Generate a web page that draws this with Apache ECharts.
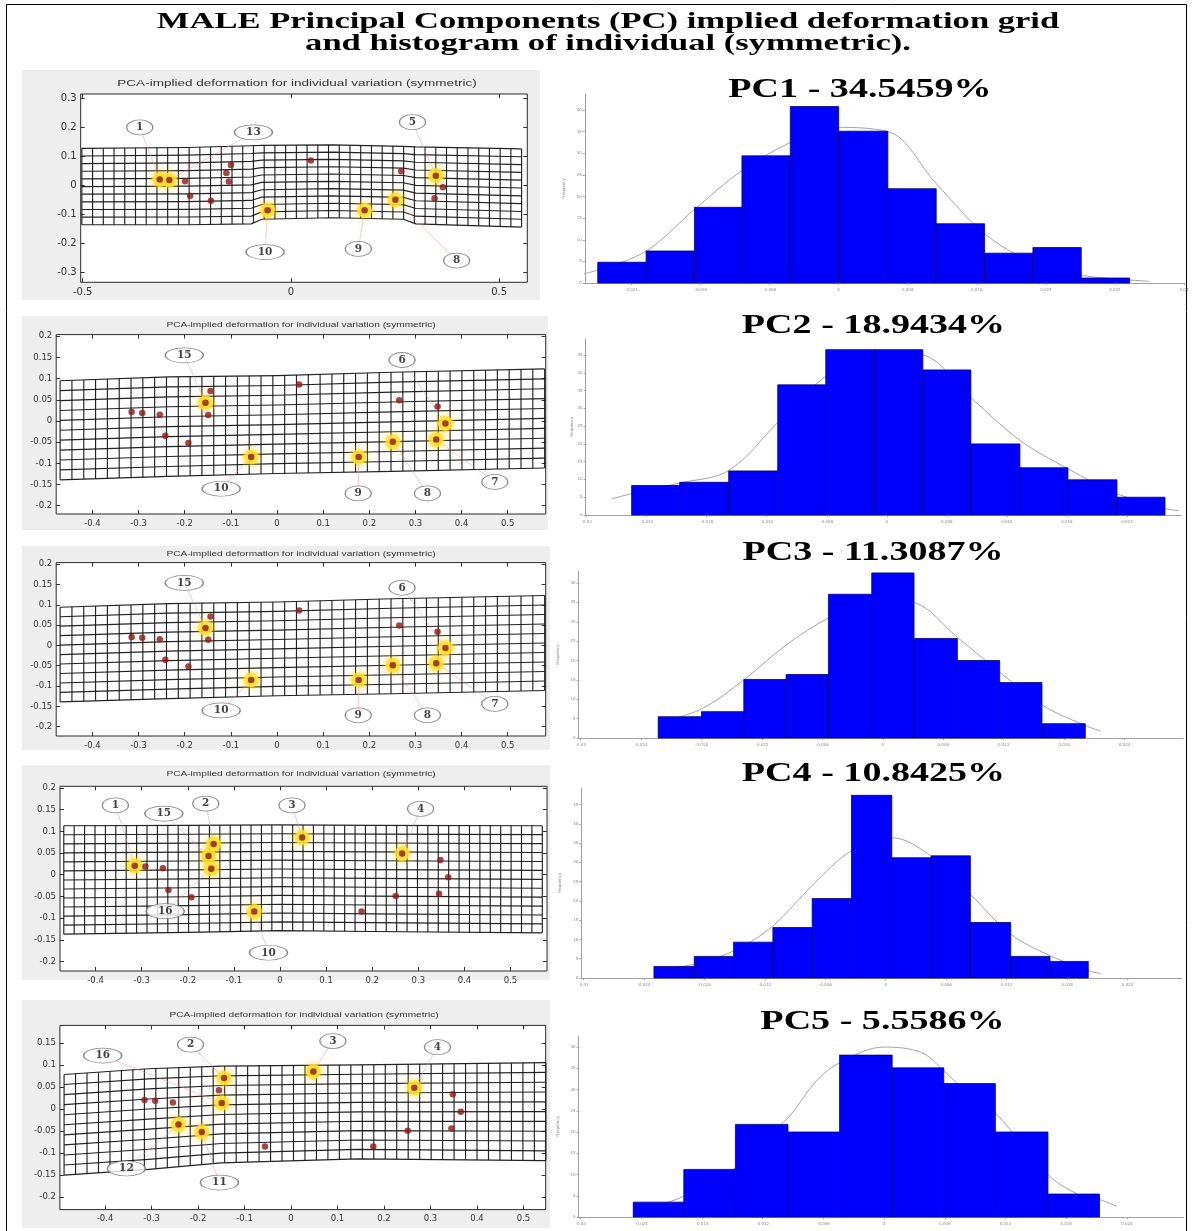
<!DOCTYPE html>
<html><head><meta charset="utf-8">
<script src="https://cdn.jsdelivr.net/npm/echarts@6/dist/echarts.min.js"></script>
<style>html,body{margin:0;padding:0;background:#fff}#c{width:1192px;height:1231px}</style>
</head><body><div id="c"></div>
<script>
// ================= DATA =================
const figureTitleLines = ['MALE Principal Components (PC) implied deformation grid', 'and histogram of individual (symmetric).'];
const panelTitle = 'PCA-implied deformation for individual variation (symmetric)';
const pcTitles = ['PC1 - 34.5459%', 'PC2 - 18.9434%', 'PC3 - 11.3087%', 'PC4 - 10.8425%', 'PC5 - 5.5586%'];

// landmarks 1..16 (mean shape)
const landmarkX = [-0.315, -0.144, 0.048, 0.265, 0.348, 0.365, 0.345, 0.251, 0.177, -0.056, -0.192, -0.242, -0.292, -0.254, -0.155, -0.149];
const landmarkY = [0.021, 0.071, 0.086, 0.049, 0.034, -0.006, -0.044, -0.049, -0.085, -0.085, -0.052, -0.035, 0.019, 0.015, 0.043, 0.014];

// panel 1 (PC1)
const p1Highlighted = [1, 13, 10, 9, 8, 5];
const p1LabelIds = [1, 13, 5, 10, 9, 8];
const p1LabelX = [-0.363, -0.09, 0.292, -0.062, 0.162, 0.398];
const p1LabelY = [0.2, 0.183, 0.218, -0.229, -0.218, -0.258];
const p1XTicks = [-0.5, 0, 0.5];
const p1YTicks = [-0.3, -0.2, -0.1, 0, 0.1, 0.2, 0.3];
const p1MeshKnots = [-0.502, -0.25, -0.095, -0.07, 0.1, 0.27, 0.3, 0.554];
const p1MeshTop = [0.128, 0.131, 0.137, 0.138, 0.14, 0.135, 0.133, 0.126];
const p1MeshBottom = [-0.135, -0.135, -0.132, -0.116, -0.111, -0.116, -0.132, -0.143];
const p1MeshCols = 41, p1MeshRows = 10;

// panel 2 (PC2)
const p2Highlighted = [15, 10, 9, 8, 6, 7];
const p2LabelIds = [15, 6, 7, 10, 9, 8];
const p2LabelX = [-0.201, 0.271, 0.472, -0.121, 0.176, 0.326];
const p2LabelY = [0.155, 0.144, -0.144, -0.16, -0.171, -0.171];
const p2XTicks = [-0.4, -0.3, -0.2, -0.1, 0, 0.1, 0.2, 0.3, 0.4, 0.5];
const p2YTicks = [-0.2, -0.15, -0.1, -0.05, 0, 0.05, 0.1, 0.15, 0.2];
const p2MeshKnots = [-0.47, -0.235, 0, 0.25, 0.58];
const p2MeshTop = [0.095, 0.104, 0.107, 0.115, 0.123];
const p2MeshBottom = [-0.139, -0.131, -0.124, -0.119, -0.111];
const p2MeshCols = 41, p2MeshRows = 10;

// panel 3 (PC3)
const p3Highlighted = [15, 10, 9, 8, 6, 7];
const p3LabelIds = [15, 6, 7, 10, 9, 8];
const p3LabelX = [-0.201, 0.271, 0.472, -0.121, 0.176, 0.326];
const p3LabelY = [0.154, 0.142, -0.144, -0.16, -0.172, -0.172];
const p3XTicks = [-0.4, -0.3, -0.2, -0.1, 0, 0.1, 0.2, 0.3, 0.4, 0.5];
const p3YTicks = [-0.2, -0.15, -0.1, -0.05, 0, 0.05, 0.1, 0.15, 0.2];
const p3MeshKnots = [-0.47, -0.235, 0, 0.25, 0.58];
const p3MeshTop = [0.094, 0.103, 0.107, 0.115, 0.123];
const p3MeshBottom = [-0.139, -0.131, -0.124, -0.119, -0.111];
const p3MeshCols = 41, p3MeshRows = 10;

// panel 4 (PC4)
const p4Highlighted = [1, 2, 15, 16, 3, 4, 10];
const p4LabelIds = [1, 15, 2, 3, 4, 16, 10];
const p4LabelX = [-0.357, -0.252, -0.161, 0.026, 0.305, -0.249, -0.025];
const p4LabelY = [0.16, 0.141, 0.164, 0.16, 0.152, -0.084, -0.18];
const p4XTicks = [-0.4, -0.3, -0.2, -0.1, 0, 0.1, 0.2, 0.3, 0.4, 0.5];
const p4YTicks = [-0.2, -0.15, -0.1, -0.05, 0, 0.05, 0.1, 0.15, 0.2];
const p4MeshKnots = [-0.469, -0.2, 0, 0.2, 0.569];
const p4MeshTop = [0.113, 0.114, 0.115, 0.114, 0.113];
const p4MeshBottom = [-0.137, -0.133, -0.129, -0.131, -0.134];
const p4MeshCols = 46, p4MeshRows = 12;

// panel 5 (PC5)
const p5Highlighted = [2, 16, 3, 4, 12, 11];
const p5LabelIds = [16, 2, 3, 4, 12, 11];
const p5LabelX = [-0.405, -0.216, 0.09, 0.315, -0.354, -0.154];
const p5LabelY = [0.122, 0.147, 0.155, 0.141, -0.135, -0.167];
const p5XTicks = [-0.5, -0.4, -0.3, -0.2, -0.1, 0, 0.1, 0.2, 0.3, 0.4, 0.5];
const p5YTicks = [-0.2, -0.15, -0.1, -0.05, 0, 0.05, 0.1, 0.15];
const p5MeshKnots = [-0.488, -0.306, -0.15, 0.144, 0.548];
const p5MeshTop = [0.079, 0.092, 0.098, 0.101, 0.106];
const p5MeshBottom = [-0.15, -0.137, -0.122, -0.113, -0.117];
const p5MeshCols = 42, p5MeshRows = 10;

// histograms: bin edges, counts, fitted curve
const h1Edges = [-0.0279, -0.0223, -0.0167, -0.0112, -0.0056, 0, 0.0057, 0.0113, 0.0169, 0.0225, 0.0281, 0.0337];
const h1Counts = [4.8, 7.4, 17.5, 29.4, 40.8, 35.1, 21.8, 13.7, 6.9, 8.2, 1.15];
const h1CurveX = [-0.031, -0.0279, -0.0223, -0.0167, -0.0112, -0.0056, -0.001, 0.0057, 0.0113, 0.0169, 0.0225, 0.0281, 0.0337, 0.036];
const h1CurveY = [1.5, 3, 7.4, 17, 26, 32.5, 36, 35, 23, 11.4, 4.8, 1.8, 0.7, 0.4];
const h1XTicks = [-0.024, -0.016, -0.008, 0, 0.008, 0.016, 0.024, 0.032, 0.04];
const h1YTicks = [0, 5, 10, 15, 20, 25, 30, 35, 40];

const h2Edges = [-0.0255, -0.0207, -0.0158, -0.0109, -0.0061, -0.0012, 0.0036, 0.0084, 0.0133, 0.0181, 0.023, 0.0278];
const h2Counts = [8.3, 9.2, 12.4, 36.6, 46.5, 46.5, 40.8, 20, 13.3, 9.9, 5];
const h2CurveX = [-0.0275, -0.0255, -0.0207, -0.0158, -0.0109, -0.0061, -0.0012, 0.0036, 0.0084, 0.0133, 0.0181, 0.023, 0.0278, 0.0292];
const h2CurveY = [4.5, 6, 9, 12.5, 26, 39, 46, 45, 33, 21, 13, 6, 1.8, 1.2];
const h2XTicks = [-0.03, -0.024, -0.018, -0.012, -0.006, 0, 0.006, 0.012, 0.018, 0.024];
const h2YTicks = [0, 5, 10, 15, 20, 25, 30, 35, 40, 45];

const h3Edges = [-0.0223, -0.018, -0.0138, -0.0096, -0.0054, -0.0011, 0.0031, 0.0074, 0.0116, 0.0158, 0.0201];
const h3Counts = [5.5, 6.8, 15.1, 16.4, 37.1, 42.6, 25.7, 20, 14.3, 3.7];
const h3CurveX = [-0.0223, -0.018, -0.0138, -0.0096, -0.0054, -0.0011, 0.0031, 0.0074, 0.0116, 0.0158, 0.0201, 0.0216];
const h3CurveY = [4, 7.5, 15, 24, 31, 36, 35, 26, 17, 8.5, 3.2, 1.8];
const h3XTicks = [-0.03, -0.024, -0.018, -0.012, -0.006, 0, 0.006, 0.012, 0.018, 0.024];
const h3YTicks = [0, 5, 10, 15, 20, 25, 30, 35, 40];

const h4Edges = [-0.023, -0.019, -0.0151, -0.0112, -0.0073, -0.0034, 0.0006, 0.0045, 0.0084, 0.0124, 0.0163, 0.0201];
const h4Counts = [3, 5.6, 9.3, 13.1, 20.6, 47.4, 31.2, 31.7, 14.4, 5.6, 4.3];
const h4CurveX = [-0.023, -0.019, -0.0151, -0.0112, -0.0073, -0.0034, 0.0006, 0.0045, 0.0084, 0.0124, 0.0163, 0.0201, 0.0213];
const h4CurveY = [2, 3.6, 7, 13.5, 24, 33, 36.4, 31.6, 21.7, 11.4, 5.8, 1.9, 1.2];
const h4XTicks = [-0.03, -0.024, -0.018, -0.012, -0.006, 0, 0.006, 0.012, 0.018, 0.024];
const h4YTicks = [0, 5, 10, 15, 20, 25, 30, 35, 40, 45];

const h5Edges = [-0.0248, -0.0198, -0.0147, -0.0095, -0.0044, 0.0008, 0.0059, 0.011, 0.0162, 0.0213];
const h5Counts = [3.5, 11.2, 21.8, 20, 38.1, 35.1, 31.4, 20, 5.4];
const h5CurveX = [-0.0248, -0.0222, -0.0198, -0.0147, -0.0115, -0.0095, -0.0067, -0.0044, 0, 0.0037, 0.0059, 0.0088, 0.011, 0.0162, 0.0192, 0.0213, 0.023];
const h5CurveY = [1.5, 2.9, 4.9, 11.6, 19.4, 23.3, 32, 36.3, 40, 38.7, 34.4, 28, 24.5, 10, 5.3, 4.1, 2.5];
const h5XTicks = [-0.03, -0.024, -0.018, -0.012, -0.006, 0, 0.006, 0.012, 0.018, 0.024];
const h5YTicks = [0, 5, 10, 15, 20, 25, 30, 35, 40];

// ================= LAYOUT (pixels) =================
const leftLayout = [
  {l: 80.7, t: 94, r: 527.3, b: 282.3, xMin: -0.5048, xMax: 0.5677, yMin: -0.333, yMax: 0.315, fs: 10, bg: [22, 70, 518, 230], title: [297, 83, 9.6]},
  {l: 56.2, t: 334.6, r: 545.7, b: 514, xMin: -0.4785, xMax: 0.5823, yMin: -0.2197, yMax: 0.204, fs: 8.5, bg: [22, 316, 526, 214], title: [301, 325, 7.2]},
  {l: 56.2, t: 562.6, r: 545.7, b: 736, xMin: -0.4785, xMax: 0.5823, yMin: -0.223, yMax: 0.204, fs: 8.5, bg: [22, 546, 528, 204], title: [301, 554, 7.2]},
  {l: 60, t: 786.3, r: 547, b: 971, xMin: -0.4772, xMax: 0.5792, yMin: -0.222, yMax: 0.204, fs: 8.5, bg: [22, 765, 528, 215], title: [301, 774, 7.2]},
  {l: 59.9, t: 1025.4, r: 545.7, b: 1209.6, xMin: -0.497, xMax: 0.5477, yMin: -0.2285, yMax: 0.1907, fs: 8.5, bg: [22, 1000, 528, 228], title: [304, 1015, 7.2]}
];
const histLayout = [
  {l: 584.8, t: 94, r: 1184, b: 283, xMin: -0.0294, xMax: 0.04, yMax: 43.7, title: [860, 90]},
  {l: 585.6, t: 339, r: 1181, b: 515, xMin: -0.0301, xMax: 0.0294, yMax: 49.5, title: [873.5, 326]},
  {l: 578.6, t: 571.4, r: 1183, b: 738, xMin: -0.0302, xMax: 0.0298, yMax: 43, title: [873, 553]},
  {l: 581.4, t: 788, r: 1182, b: 978, xMin: -0.0302, xMax: 0.0294, yMax: 49.3, title: [873.5, 774]},
  {l: 578.6, t: 1036, r: 1183.5, b: 1217, xMin: -0.0302, xMax: 0.0296, yMax: 42.6, title: [882.5, 1022]}
];

// ================= BUILD =================
const panels = [
  {hl: p1Highlighted, ids: p1LabelIds, lx: p1LabelX, ly: p1LabelY, xt: p1XTicks, yt: p1YTicks, mk: p1MeshKnots, mt: p1MeshTop, mb: p1MeshBottom, cols: p1MeshCols, rows: p1MeshRows},
  {hl: p2Highlighted, ids: p2LabelIds, lx: p2LabelX, ly: p2LabelY, xt: p2XTicks, yt: p2YTicks, mk: p2MeshKnots, mt: p2MeshTop, mb: p2MeshBottom, cols: p2MeshCols, rows: p2MeshRows},
  {hl: p3Highlighted, ids: p3LabelIds, lx: p3LabelX, ly: p3LabelY, xt: p3XTicks, yt: p3YTicks, mk: p3MeshKnots, mt: p3MeshTop, mb: p3MeshBottom, cols: p3MeshCols, rows: p3MeshRows},
  {hl: p4Highlighted, ids: p4LabelIds, lx: p4LabelX, ly: p4LabelY, xt: p4XTicks, yt: p4YTicks, mk: p4MeshKnots, mt: p4MeshTop, mb: p4MeshBottom, cols: p4MeshCols, rows: p4MeshRows},
  {hl: p5Highlighted, ids: p5LabelIds, lx: p5LabelX, ly: p5LabelY, xt: p5XTicks, yt: p5YTicks, mk: p5MeshKnots, mt: p5MeshTop, mb: p5MeshBottom, cols: p5MeshCols, rows: p5MeshRows}
];
const hists = [
  {e: h1Edges, c: h1Counts, cx: h1CurveX, cy: h1CurveY, xt: h1XTicks, yt: h1YTicks},
  {e: h2Edges, c: h2Counts, cx: h2CurveX, cy: h2CurveY, xt: h2XTicks, yt: h2YTicks},
  {e: h3Edges, c: h3Counts, cx: h3CurveX, cy: h3CurveY, xt: h3XTicks, yt: h3YTicks},
  {e: h4Edges, c: h4Counts, cx: h4CurveX, cy: h4CurveY, xt: h4XTicks, yt: h4YTicks},
  {e: h5Edges, c: h5Counts, cx: h5CurveX, cy: h5CurveY, xt: h5XTicks, yt: h5YTicks}
];

function lmk(n) { return [landmarkX[n - 1], landmarkY[n - 1]]; }
function interp(knots, vals, x) {
  if (x <= knots[0]) return vals[0];
  for (let i = 1; i < knots.length; i++) {
    if (x <= knots[i]) { const f = (x - knots[i - 1]) / (knots[i] - knots[i - 1]); return vals[i - 1] + (vals[i] - vals[i - 1]) * f; }
  }
  return vals[vals.length - 1];
}
function buildMesh(p) {
  const lines = [];
  for (let j = 0; j <= p.rows; j++) {
    const f = j / p.rows;
    lines.push(p.mk.map((k, i) => [k, p.mt[i] + (p.mb[i] - p.mt[i]) * f]));
  }
  const x0 = p.mk[0], x1 = p.mk[p.mk.length - 1];
  for (let c = 0; c <= p.cols; c++) {
    const x = x0 + (x1 - x0) * c / p.cols;
    lines.push([[x, interp(p.mk, p.mt, x)], [x, interp(p.mk, p.mb, x)]]);
  }
  return lines;
}
const fmt = v => String(parseFloat(Number(v).toFixed(3)));

const grid = [], xAxis = [], yAxis = [], series = [], graphic = [];
const SANS = 'DejaVu Sans';

graphic.push({type: 'rect', z: -100, shape: {x: 6.5, y: 4.5, width: 1180, height: 1230}, style: {fill: '#fff', stroke: '#000', lineWidth: 1}});

figureTitleLines.forEach((t, i) => {
  graphic.push({type: 'text', x: 608, y: 22 + i * 22, scaleX: 1.44, z: 100,
    style: {text: t, font: 'bold 24px "Liberation Serif"', fill: '#000', align: 'center', verticalAlign: 'middle', textAlign: 'center', textVerticalAlign: 'middle'}});
});

panels.forEach((p, i) => {
  const L = leftLayout[i];
  graphic.push({type: 'rect', z: -50, shape: {x: L.bg[0], y: L.bg[1], width: L.bg[2], height: L.bg[3]}, style: {fill: '#eeeeee'}});
  graphic.push({type: 'text', x: L.title[0], y: L.title[1], scaleX: 1.41, z: 100,
    style: {text: panelTitle, font: L.title[2] + 'px "Liberation Sans"', fill: '#333', align: 'center', verticalAlign: 'middle', textAlign: 'center', textVerticalAlign: 'middle'}});
  const gi = grid.length;
  grid.push({left: L.l, top: L.t, width: L.r - L.l, height: L.b - L.t, show: true, backgroundColor: '#fff', borderColor: '#2a2a2a', borderWidth: 1});
  const xi = xAxis.length, yi = yAxis.length;
  const tickStyle = {show: true, inside: true, length: 4, lineStyle: {color: '#333'}};
  const line = {show: false, onZero: false};
  xAxis.push({gridIndex: gi, type: 'value', min: L.xMin, max: L.xMax, position: 'bottom', axisLine: line,
    axisTick: Object.assign({customValues: p.xt}, tickStyle), splitLine: {show: false},
    axisLabel: {customValues: p.xt, formatter: fmt, fontSize: L.fs, color: '#333', margin: 5, fontFamily: SANS}});
  xAxis.push({gridIndex: gi, type: 'value', min: L.xMin, max: L.xMax, position: 'top', axisLine: line,
    axisTick: Object.assign({customValues: p.xt}, tickStyle), splitLine: {show: false}, axisLabel: {show: false}});
  yAxis.push({gridIndex: gi, type: 'value', min: L.yMin, max: L.yMax, position: 'left', axisLine: line,
    axisTick: Object.assign({customValues: p.yt}, tickStyle), splitLine: {show: false},
    axisLabel: {customValues: p.yt, formatter: fmt, fontSize: L.fs, color: '#333', margin: 4, fontFamily: SANS}});
  yAxis.push({gridIndex: gi, type: 'value', min: L.yMin, max: L.yMax, position: 'right', axisLine: line,
    axisTick: Object.assign({customValues: p.yt}, tickStyle), splitLine: {show: false}, axisLabel: {show: false}});

  series.push({type: 'lines', coordinateSystem: 'cartesian2d', xAxisIndex: xi, yAxisIndex: yi, polyline: true, silent: true, z: 2,
    data: buildMesh(p).map(c => ({coords: c})), lineStyle: {color: '#161616', width: 1.15, opacity: 0.95}});
  series.push({type: 'lines', coordinateSystem: 'cartesian2d', xAxisIndex: xi, yAxisIndex: yi, silent: true, z: 3,
    data: p.ids.map((n, k) => ({coords: [[p.lx[k], p.ly[k]], lmk(n)]})), lineStyle: {color: '#e09494', width: 1}});
  series.push({type: 'scatter', xAxisIndex: xi, yAxisIndex: yi, silent: true, z: 4, symbolSize: 15,
    data: p.hl.map(lmk), itemStyle: {color: '#ffe22e', shadowBlur: 7, shadowColor: '#ffd000'}});
  series.push({type: 'scatter', xAxisIndex: xi, yAxisIndex: yi, silent: true, z: 5, symbolSize: 6.5,
    data: landmarkX.map((x, k) => [x, landmarkY[k]]), itemStyle: {color: '#8c1818'}});
  series.push({type: 'scatter', xAxisIndex: xi, yAxisIndex: yi, silent: true, z: 6,
    data: p.ids.map((n, k) => ({value: [p.lx[k], p.ly[k]], name: String(n), symbolSize: n >= 10 ? [38, 15] : [26, 15]})),
    itemStyle: {color: '#fff', borderColor: '#6a6a6a', borderWidth: 1},
    label: {show: true, position: 'inside', formatter: q => q.name, fontFamily: 'DejaVu Serif', fontWeight: 'bold', fontSize: 10.5, color: '#111'}});
});

hists.forEach((h, i) => {
  const L = histLayout[i];
  graphic.push({type: 'text', x: L.title[0], y: L.title[1], scaleX: 1.41, z: 100,
    style: {text: pcTitles[i], font: 'bold 27px "Liberation Serif"', fill: '#000', align: 'center', verticalAlign: 'middle', textAlign: 'center', textVerticalAlign: 'middle'}});
  const gi = grid.length;
  grid.push({left: L.l, top: L.t, width: L.r - L.l, height: L.b - L.t, show: false});
  const xi = xAxis.length, yi = yAxis.length;
  xAxis.push({gridIndex: gi, type: 'value', min: L.xMin, max: L.xMax, position: 'bottom',
    axisLine: {show: true, onZero: false, lineStyle: {color: '#a0a0a0', width: 1}},
    axisTick: {show: true, customValues: h.xt, length: 2, lineStyle: {color: '#a0a0a0'}}, splitLine: {show: false},
    axisLabel: {customValues: h.xt, formatter: fmt, fontSize: 4, color: '#888', margin: 5, fontFamily: SANS}});
  yAxis.push({gridIndex: gi, type: 'value', min: 0, max: L.yMax, position: 'left',
    axisLine: {show: true, onZero: false, lineStyle: {color: '#a0a0a0', width: 1}},
    axisTick: {show: true, customValues: h.yt, length: 2, lineStyle: {color: '#a0a0a0'}}, splitLine: {show: false},
    axisLabel: {customValues: h.yt, fontSize: 4, color: '#888', margin: 3, fontFamily: SANS},
    name: 'Frequency', nameLocation: 'middle', nameGap: 11, nameRotate: 90, nameTextStyle: {fontSize: 4, color: '#888', fontFamily: SANS}});
  series.push({type: 'line', xAxisIndex: xi, yAxisIndex: yi, silent: true, z: 2, smooth: 0.35, symbol: 'none',
    data: h.cx.map((x, k) => [x, h.cy[k]]), lineStyle: {color: '#a3a3a3', width: 1}});
  series.push({type: 'custom', xAxisIndex: xi, yAxisIndex: yi, silent: true, z: 3,
    data: h.c.map((v, k) => [h.e[k], h.e[k + 1], v]),
    encode: {x: [0, 1], y: 2},
    renderItem: (params, api) => {
      const p0 = api.coord([api.value(0), api.value(2)]);
      const p1 = api.coord([api.value(1), 0]);
      return {type: 'rect', shape: {x: p0[0], y: p0[1], width: p1[0] - p0[0], height: p1[1] - p0[1]},
        style: {fill: '#0000ff', stroke: '#00007a', lineWidth: 0.8}};
    }});
});

const chart = echarts.init(document.getElementById('c'), null, {renderer: 'canvas'});
chart.setOption({animation: false, backgroundColor: '#fff', grid, xAxis, yAxis, series, graphic: {elements: graphic}});
</script></body></html>
